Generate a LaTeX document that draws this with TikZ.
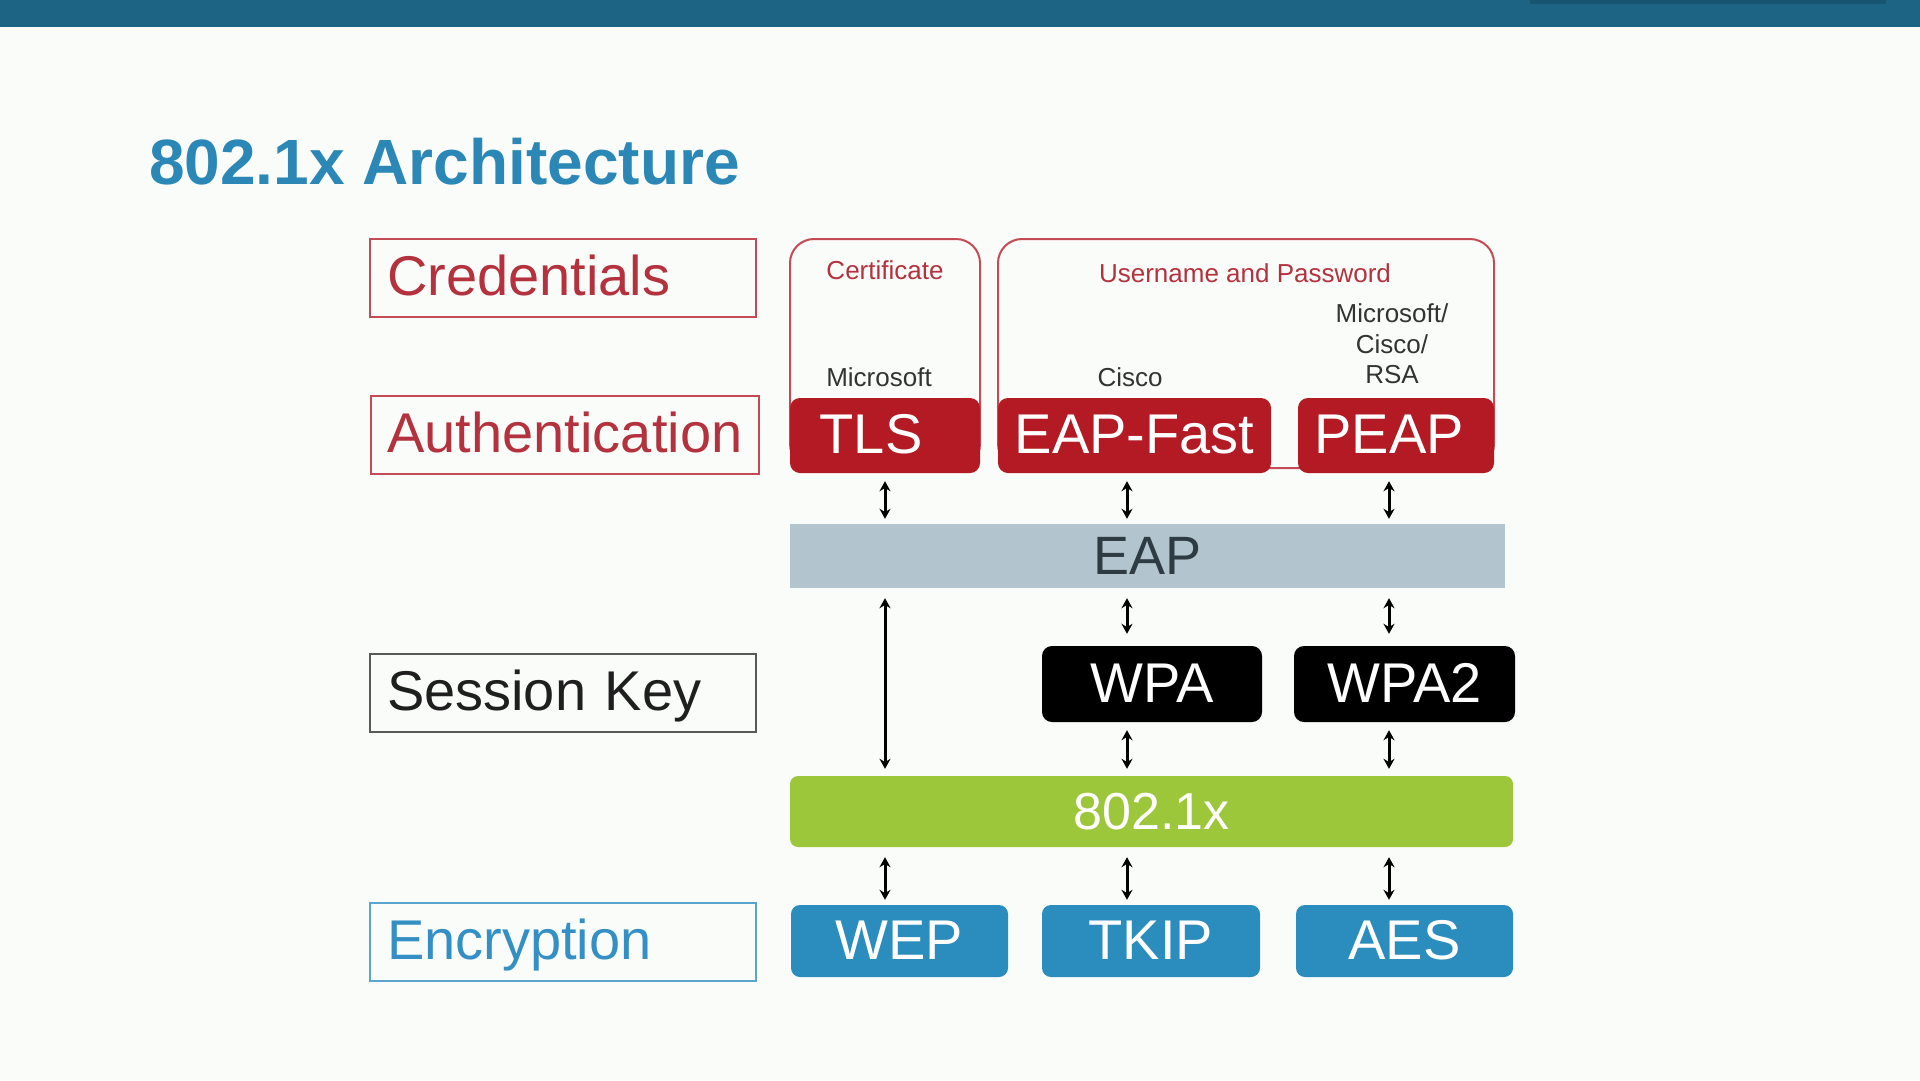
\documentclass[tikz,border=0pt]{standalone}
\usepackage{fontspec}
\setmainfont{Liberation Sans}
\usetikzlibrary{arrows.meta,calc}
\definecolor{bgc}{HTML}{FAFCFA}
\definecolor{band}{HTML}{1C6384}
\definecolor{bandedge}{HTML}{17546F}
\definecolor{titleblue}{HTML}{2B88B6}
\definecolor{credred}{HTML}{B3323D}
\definecolor{credline}{HTML}{C44B56}
\definecolor{authred}{HTML}{B31A24}
\definecolor{eapgrey}{HTML}{B2C5CF}
\definecolor{eaptext}{HTML}{2F3B42}
\definecolor{dotgreen}{HTML}{9DC73A}
\definecolor{encblue}{HTML}{2A8DBE}
\definecolor{enctext}{HTML}{3490C4}
\definecolor{encline}{HTML}{5AA5D0}
\definecolor{smallgrey}{HTML}{333333}
\tikzset{
  lblbox/.style={rectangle, line width=2pt, minimum height=78pt, text width=352pt,
    align=left, inner xsep=17pt, inner ysep=0pt, text height=35pt, text depth=0pt,
    font=\fontsize{56}{60}\selectfont},
  credbox/.style={draw=credline, rounded corners=24pt, line width=2pt, inner sep=0pt, minimum height=229pt},
  authbox/.style={fill=authred, rounded corners=10pt, text=white, inner sep=0pt,
    minimum height=75pt, text height=36pt, text depth=0pt, font=\fontsize{56}{60}\selectfont},
  layerbar/.style={inner sep=0pt, text height=36pt, text depth=0pt, font=\fontsize{54}{58}\selectfont},
  keybox/.style={fill=black, rounded corners=10pt, text=white, inner sep=0pt,
    minimum width=220pt, minimum height=76pt, text height=37pt, text depth=0pt,
    font=\fontsize{56}{60}\selectfont},
  encbox/.style={fill=encblue, rounded corners=9pt, text=white, inner sep=0pt,
    minimum width=217pt, minimum height=72pt, text height=37pt, text depth=0pt,
    font=\fontsize{56}{60}\selectfont},
  smalltxt/.style={inner sep=0pt, anchor=base, font=\fontsize{26}{30}\selectfont},
  dbl/.style={line width=3pt, {Stealth[length=10pt,width=11pt]}-{Stealth[length=10pt,width=11pt]}}
}
\begin{document}
\begin{tikzpicture}[x=1pt,y=-1pt]
  % page, header band
  \fill[bgc] (0,0) rectangle (1920,1080);
  \useasboundingbox (0,0) rectangle (1920,1080);
  \fill[band] (0,0) rectangle (1920,27);
  \fill[bandedge] (1530,0) rectangle (1886,4);

  % title
  \node[anchor=base west, inner sep=0pt, text=titleblue, font=\fontsize{64}{70}\selectfont\bfseries]
    (title) at (149,184) {802.1x Architecture};

  % layer labels on the left
  \node[lblbox, draw=credline, text=credred] (cred) at (563,278) {Credentials};
  \node[lblbox, draw=credline, text=credred, text width=354pt] (auth) at (564.5,434.5) {Authentication};
  \node[lblbox, draw=black!65, text=black!88] (skey) at (563,693) {Session Key};
  \node[lblbox, draw=encline, text=enctext] (enc) at (563,941.5) {Encryption};

  % credential groups
  \node[credbox, minimum width=190pt] (certbox) at (885,353.5) {};
  \node[credbox, minimum width=496pt] (userbox) at (1246,353.5) {};
  \node[smalltxt, text=credred] (certtxt) at (885,279) {Certificate};
  \node[smalltxt, text=credred] (usertxt) at (1245,282) {Username and Password};
  \node[smalltxt, text=smallgrey] (mstxt) at (879,386) {Microsoft};
  \node[smalltxt, text=smallgrey] (ciscotxt) at (1130,386) {Cisco};
  \node[smalltxt, text=smallgrey, align=center, anchor=center, font=\fontsize{26}{30.5}\selectfont]
    (vendtxt) at (1392,344) {Microsoft/\\Cisco/\\RSA};

  % authentication methods (TLS and PEAP labels sit a little left of centre)
  \node[authbox, minimum width=190pt] (tls) at (885,435.5) {TLS\kern28pt};
  \node[authbox, minimum width=273pt] (fast) at (1134.5,435.5) {EAP-Fast};
  \node[authbox, minimum width=196pt] (peap) at (1396,435.5) {PEAP\kern14pt};

  % EAP layer
  \node[layerbar, fill=eapgrey, text=eaptext, minimum width=715pt, minimum height=64pt]
    (eap) at (1147.5,556) {EAP};

  % session key methods
  \node[keybox] (wpa) at (1152,684) {WPA};
  \node[keybox, minimum width=221pt] (wpa2) at (1404.5,684) {WPA2};

  % 802.1x layer
  \node[layerbar, fill=dotgreen, text=white, rounded corners=8pt, minimum width=723pt,
    minimum height=71pt, font=\fontsize{52}{56}\selectfont, text height=35pt] (dot1x) at (1151.5,811.5) {802.1x};

  % encryption methods
  \node[encbox] (wep) at (899.5,941) {WEP};
  \node[encbox, minimum width=218pt] (tkip) at (1151,941) {TKIP};
  \node[encbox] (aes) at (1404.5,941) {AES};

  % arrow columns
  \coordinate (c1) at (885,0);
  \coordinate (c2) at (1127,0);
  \coordinate (c3) at (1389,0);

  % authentication <-> EAP
  \draw[dbl, shorten <=8pt, shorten >=5pt] (c1 |- tls.south) -- (c1 |- eap.north);
  \draw[dbl, shorten <=8pt, shorten >=5pt] (c2 |- fast.south) -- (c2 |- eap.north);
  \draw[dbl, shorten <=8pt, shorten >=5pt] (c3 |- peap.south) -- (c3 |- eap.north);

  % EAP <-> session keys / 802.1x
  \draw[dbl, shorten <=10pt, shorten >=7pt] (c1 |- eap.south) -- (c1 |- dot1x.north);
  \draw[dbl, shorten <=10pt, shorten >=12pt] (c2 |- eap.south) -- (c2 |- wpa.north);
  \draw[dbl, shorten <=10pt, shorten >=12pt] (c3 |- eap.south) -- (c3 |- wpa2.north);

  % session keys <-> 802.1x
  \draw[dbl, shorten <=8pt, shorten >=7pt] (c2 |- wpa.south) -- (c2 |- dot1x.north);
  \draw[dbl, shorten <=8pt, shorten >=7pt] (c3 |- wpa2.south) -- (c3 |- dot1x.north);

  % 802.1x <-> encryption
  \draw[dbl, shorten <=10pt, shorten >=5pt] (c1 |- dot1x.south) -- (c1 |- wep.north);
  \draw[dbl, shorten <=10pt, shorten >=5pt] (c2 |- dot1x.south) -- (c2 |- tkip.north);
  \draw[dbl, shorten <=10pt, shorten >=5pt] (c3 |- dot1x.south) -- (c3 |- aes.north);
\end{tikzpicture}
\end{document}
